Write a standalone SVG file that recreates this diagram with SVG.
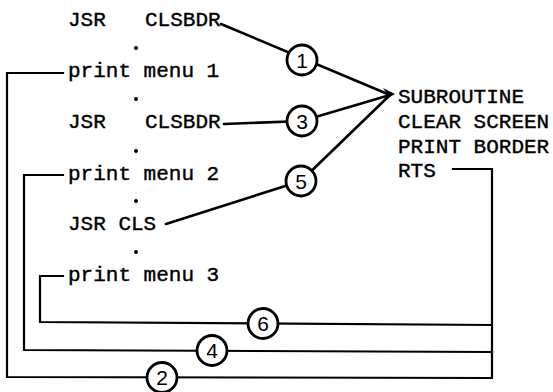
<svg xmlns="http://www.w3.org/2000/svg" width="553" height="392" viewBox="0 0 553 392">
  <style>
    .code { font-family: "Liberation Mono", "Courier New", monospace; font-size: 21px; fill: #000; stroke: #000; stroke-width: 0.4px; }
    .num { font-family: "Liberation Sans", Arial, sans-serif; font-size: 21px; fill: #000; text-anchor: middle; }
    .wire { fill: none; stroke: #000; stroke-width: 2.6; stroke-linecap: round; stroke-linejoin: miter; }
    .thin { fill: none; stroke: #000; stroke-width: 2.2; stroke-linecap: square; }
    .ring { fill: #fff; stroke: #000; stroke-width: 2.8; }
    .dot { fill: #000; }
  </style>

  <!-- main program listing -->
  <g id="main-program">
    <text class="code" x="68" y="25.5">JSR</text>
    <text class="code" x="145" y="25.5">CLSBDR</text>
    <circle class="dot" cx="136" cy="48" r="2"/>
    <text class="code" x="68" y="77">print menu 1</text>
    <circle class="dot" cx="136" cy="99" r="2"/>
    <text class="code" x="68" y="128">JSR</text>
    <text class="code" x="145" y="128">CLSBDR</text>
    <circle class="dot" cx="136" cy="151" r="2"/>
    <text class="code" x="68" y="180">print menu 2</text>
    <circle class="dot" cx="136" cy="201" r="2"/>
    <text class="code" x="68" y="230">JSR CLS</text>
    <circle class="dot" cx="136" cy="252" r="2"/>
    <text class="code" x="68" y="281">print menu 3</text>
  </g>

  <!-- subroutine listing -->
  <g id="subroutine">
    <text class="code" x="398" y="103">SUBROUTINE</text>
    <text class="code" x="398" y="128">CLEAR SCREEN</text>
    <text class="code" x="398" y="153">PRINT BORDER</text>
    <text class="code" x="398" y="177">RTS</text>
  </g>

  <!-- call and return paths -->
  <g id="connectors">
    <!-- calls into the subroutine -->
    <polyline class="wire" points="221,24 390,95"/>
    <polyline class="wire" points="224,124 302,121 390,95"/>
    <polyline class="wire" points="166,224 301,181 390,95"/>
    <polygon points="395,94 383,88 388,95 383,101" fill="#000"/>
    <!-- returns back to the main program -->
    <polyline class="thin" points="453,169 492,169 492,378 7,377 7,73 63,73"/>
    <polyline class="thin" points="492,352 24,350 24,175 63,175"/>
    <polyline class="thin" points="492,325 40,322 40,276 63,276"/>
  </g>

  <!-- numbered step markers -->
  <g id="step-1"><circle class="ring" cx="302" cy="60" r="15"/><text class="num" x="302" y="67.5">1</text></g>
  <g id="step-2"><circle class="ring" cx="162" cy="377.5" r="15"/><text class="num" x="162" y="385">2</text></g>
  <g id="step-3"><circle class="ring" cx="302" cy="121" r="15"/><text class="num" x="302" y="128.5">3</text></g>
  <g id="step-4"><circle class="ring" cx="212" cy="350.5" r="15"/><text class="num" x="212" y="358">4</text></g>
  <g id="step-5"><circle class="ring" cx="301" cy="181" r="15"/><text class="num" x="301" y="188.5">5</text></g>
  <g id="step-6"><circle class="ring" cx="263" cy="323.5" r="15"/><text class="num" x="263" y="331">6</text></g>
</svg>
